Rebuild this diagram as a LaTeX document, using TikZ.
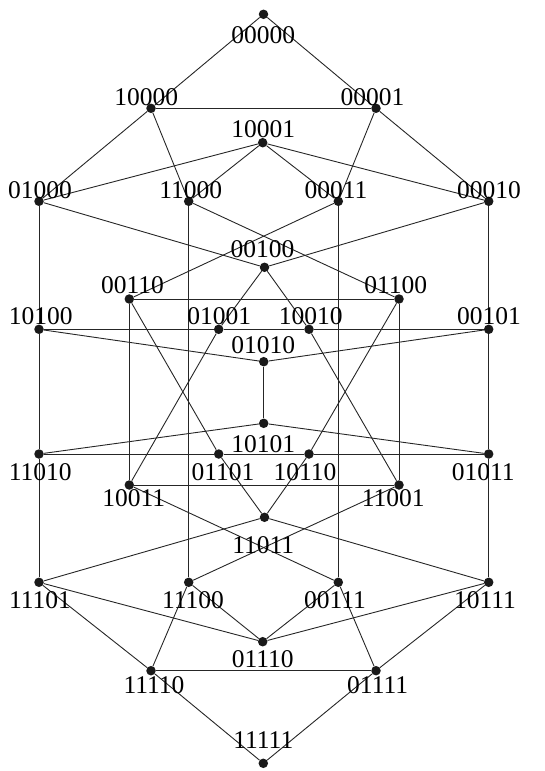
\documentclass[tikz,border=0pt]{standalone}
\usepackage{fontspec}
\setmainfont{Liberation Serif}
\begin{document}
\begin{tikzpicture}[x=1pt,y=-1pt,
  vdot/.style={circle,fill=black!90,inner sep=0pt,minimum size=9.5pt},
  lab/.style={inner sep=0pt,font=\fontsize{25.5}{27}\selectfont},
  edge/.style={line width=0.9pt,black!85}]
\useasboundingbox (0,0) rectangle (544,771);
\foreach \n/\x/\y in {
 00000/263.5/14.3, 10000/151/108.3, 00001/376/108.3, 10001/262.7/142.7,
 01000/39/201.3, 11000/188.7/201.3, 00011/338.3/201.3, 00010/488.7/201.3,
 00100/264.5/267.3, 00110/129.3/299, 01100/399/299,
 10100/39/329.3, 01001/218.7/329.3, 10010/309/329.3, 00101/488.7/329.3,
 01010/263.7/361.7, 10101/263.7/423.3,
 11010/39/454, 01101/218.7/454, 10110/309/454, 01011/488.7/454,
 10011/129.3/485, 11001/399/485, 11011/264.5/517.3,
 11101/39/582.3, 11100/188.7/582.3, 00111/338.3/582.3, 10111/488.7/582.3,
 01110/262.7/641.7, 11110/151/670.7, 01111/376/670.7, 11111/263.3/763.3}
 {\node[vdot] (v\n) at (\x,\y) {};}
\foreach \a/\b in {
 00000/10000, 00000/00001, 10000/00001, 10000/01000, 10000/11000,
 00001/00011, 00001/00010, 10001/01000, 10001/11000, 10001/00011, 10001/00010,
 01000/00100, 01000/10100, 11000/01100, 11000/11100, 00011/00110, 00011/00111,
 00010/00100, 00010/00101, 00100/01001, 00100/10010,
 00110/01100, 00110/10011, 00110/01101, 01100/10110, 01100/11001,
 10100/01001, 01001/10010, 10010/00101, 10100/01010, 00101/01010,
 10100/11010, 00101/01011, 01001/10011, 10010/11001, 01010/10101,
 10101/11010, 10101/01011, 11010/01101, 01101/10110, 10110/01011,
 01101/11011, 10110/11011, 11010/11101, 01011/10111, 10011/11001,
 10011/00111, 11001/11100, 11011/11101, 11011/10111,
 11101/01110, 11101/11110, 11100/11110, 11100/01110,
 00111/01110, 00111/01111, 10111/01110, 10111/01111,
 11110/01111, 11110/11111, 01111/11111}
 {\draw[edge] (v\a) -- (v\b);}
\foreach \n/\x/\y in {
 00000/263.3/35, 10000/146.3/96.7, 00001/372.5/96.7, 10001/263.2/129,
 01000/40/190, 11000/190.8/190, 00011/336/190, 00010/489/190,
 00100/262.5/249.5, 00110/132.5/285.3, 01100/395.8/285.3,
 10100/40.8/316.2, 01001/219.2/316.2, 10010/310.8/316.2, 00101/489/316.2,
 01010/263.3/344.7, 10101/263.3/443.8,
 11010/40.3/471.7, 01101/223/471.7, 10110/305/471.7, 01011/483.3/471.7,
 10011/133.7/498, 11001/393.3/498, 11011/263.3/545.3,
 11101/40/600.5, 11100/193/600.5, 00111/335/600.5, 10111/485/600.5,
 01110/262.8/659, 11110/154/684.7, 01111/377.7/684.7, 11111/263.3/740.5}
 {\node[lab] (t\n) at (\x,\y) {\n};}
\end{tikzpicture}
\end{document}
